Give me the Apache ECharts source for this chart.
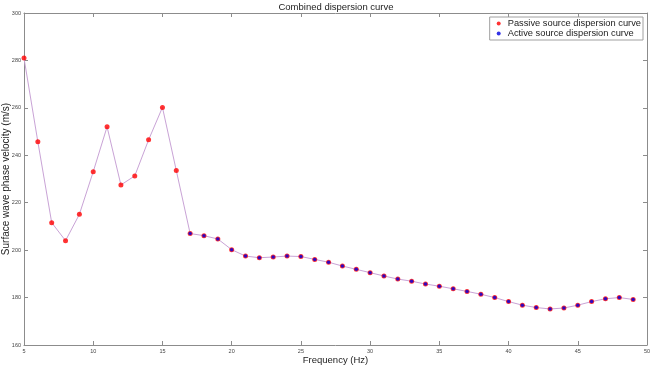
<!DOCTYPE html>
<html>
<head>
<meta charset="utf-8">
<script src="https://cdn.jsdelivr.net/npm/echarts@6/dist/echarts.min.js"></script>
<style>
html, body { margin: 0; padding: 0; background: #fff; }
#chart { width: 651px; height: 368px; }
</style>
</head>
<body>
<div id="chart"></div>
<script>
// passive source: 5-16 Hz
var passiveFreq = [5, 6, 7, 8, 9, 10, 11, 12, 13, 14, 15, 16];
var passiveVel = [281.0, 245.7, 211.6, 204.0, 215.1, 233.1, 252.0, 227.5, 231.3, 246.5, 260.2, 233.6];
// active source: 17-49 Hz
var activeFreq = [17, 18, 19, 20, 21, 22, 23, 24, 25, 26, 27, 28, 29, 30, 31, 32, 33,
    34, 35, 36, 37, 38, 39, 40, 41, 42, 43, 44, 45, 46, 47, 48, 49];
var activeVel = [207.0, 206.1, 204.7, 200.2, 197.5, 196.8, 197.1, 197.5, 197.3, 196.1, 194.9,
    193.3, 191.9, 190.5, 189.1, 187.8, 186.9, 185.7, 184.8, 183.7, 182.6, 181.4, 180.0,
    178.3, 176.8, 175.8, 175.2, 175.6, 176.8, 178.3, 179.5, 180.0, 179.2];
var xTicks = [5, 50, 5];   // min, max, step
var yTicks = [160, 300, 20];

var pts = function (xs, ys) {
    return xs.map(function (x, i) { return [x, ys[i]]; });
};
var allPts = pts(passiveFreq, passiveVel).concat(pts(activeFreq, activeVel));

var axisGrey = '#8c8c8c';
var font = 'Liberation Sans';
var myChart = echarts.init(document.getElementById('chart'));

var baseX = {
    type: 'value', min: xTicks[0], max: xTicks[1], interval: xTicks[2],
    axisLine: { show: true, lineStyle: { color: axisGrey, width: 1 } },
    axisTick: { show: true, inside: true, length: 4, lineStyle: { color: axisGrey } },
    splitLine: { show: false }
};
var baseY = {
    type: 'value', min: yTicks[0], max: yTicks[1], interval: yTicks[2],
    axisLine: { show: true, lineStyle: { color: axisGrey, width: 1 } },
    axisTick: { show: true, inside: true, length: 4, lineStyle: { color: axisGrey } },
    splitLine: { show: false }
};

var option = {
    backgroundColor: '#fff',
    animation: false,
    title: {
        text: 'Combined dispersion curve',
        left: 331, top: -3, textAlign: 'center',
        textStyle: { fontFamily: font, fontSize: 9.5, fontWeight: 'normal', color: '#222' }
    },
    legend: {
        right: 8, top: 17,
        orient: 'vertical',
        data: ['Passive source dispersion curve', 'Active source dispersion curve'],
        icon: 'circle',
        itemWidth: 4, itemHeight: 4, itemGap: 1,
        padding: [2, 2, 2, 7],
        borderColor: '#a0a0a0', borderWidth: 1, backgroundColor: '#fff',
        textStyle: { fontFamily: font, fontSize: 9.3, color: '#222', padding: [0, 0, 0, 2] }
    },
    grid: { left: 24, right: 4, top: 13, bottom: 23, outerBoundsMode: 'none', containLabel: false },
    xAxis: [
        Object.assign({}, baseX, {
            position: 'bottom',
            name: 'Frequency (Hz)', nameLocation: 'middle', nameGap: 10, nameMoveOverlap: false,
            nameTextStyle: { fontFamily: font, fontSize: 9.5, color: '#222' },
            axisLabel: { fontFamily: font, fontSize: 5.5, color: '#444', margin: 3 }
        }),
        Object.assign({}, baseX, { position: 'top', axisLabel: { show: false } })
    ],
    yAxis: [
        Object.assign({}, baseY, {
            position: 'left',
            name: 'Surface wave phase velocity (m/s)', nameLocation: 'middle', nameGap: 13, nameMoveOverlap: false,
            nameTextStyle: { fontFamily: font, fontSize: 10, color: '#222' },
            axisLabel: { fontFamily: font, fontSize: 5.5, color: '#444', margin: 3 }
        }),
        Object.assign({}, baseY, { position: 'right', axisLabel: { show: false } })
    ],
    series: [
        {
            name: 'curve', type: 'line', data: allPts,
            showSymbol: false, silent: true,
            lineStyle: { color: '#c9a3d6', width: 1 }, z: 1
        },
        {
            name: 'Passive source dispersion curve', type: 'scatter',
            data: allPts,
            symbolSize: 5, itemStyle: { color: '#ff0000' }, z: 2
        },
        {
            name: 'Active source dispersion curve', type: 'scatter',
            data: pts(activeFreq, activeVel),
            symbolSize: 3.5, itemStyle: { color: '#0000e0' }, z: 3
        }
    ]
};
myChart.setOption(option);
</script>
</body>
</html>
